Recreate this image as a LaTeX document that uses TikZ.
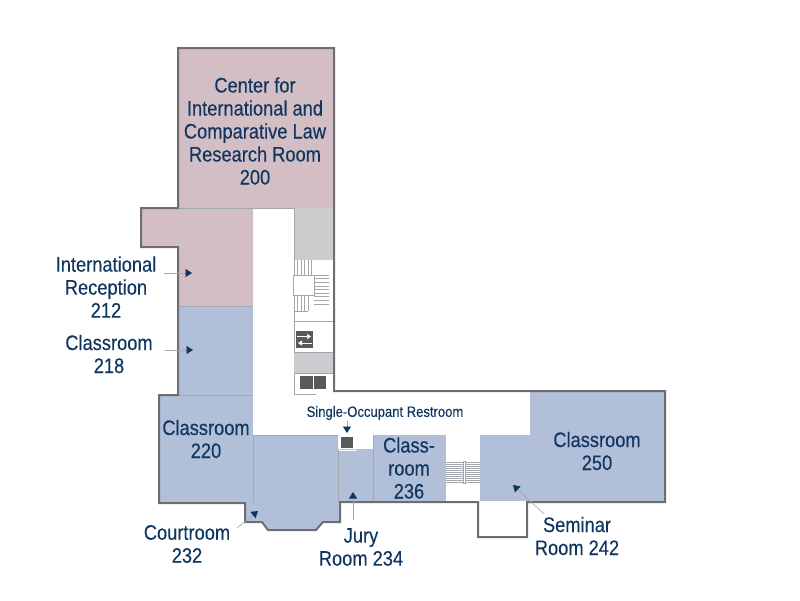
\documentclass[tikz,border=0pt]{standalone}
\usepackage{fontspec}
\setmainfont[FakeStretch=0.87,FakeBold=0.25]{Liberation Sans}
\usetikzlibrary{arrows.meta}
\definecolor{pinkroom}{HTML}{D4BEC6}
\definecolor{blueroom}{HTML}{B2BFD8}
\definecolor{ink}{HTML}{10365F}
\definecolor{wall}{HTML}{6E6E70}
\definecolor{thin}{HTML}{A4A8AE}
\definecolor{greyroom}{HTML}{CBCCCE}
\definecolor{dark}{HTML}{58595B}
\tikzset{
  roomlabel/.style={text=ink,align=center,font=\fontsize{21}{23}\selectfont,inner sep=0pt},
  smalllabel/.style={text=ink,align=center,font=\fontsize{15}{17}\selectfont,inner sep=0pt},
  outerwall/.style={draw=wall,line width=2pt,line join=miter},
  inner/.style={draw=thin,line width=0.7pt},
  tread/.style={draw=thin,line width=0.6pt},
  leader/.style={draw=thin,line width=0.6pt,-{Triangle[length=6.5pt,width=8pt,color=ink,fill=ink]}},
}
\begin{document}
\begin{tikzpicture}[x=1pt,y=-1pt]
\useasboundingbox (0,0) rectangle (800,600);
% room fills
\fill[pinkroom] (178,48) rectangle (334,208);
\fill[pinkroom] (141,208) -- (253,208) -- (253,306) -- (178,306) -- (178,247) -- (141,247) -- cycle;
\fill[blueroom] (178,306) rectangle (253,395);
\fill[blueroom] (159,395) -- (253,395) -- (253,503) -- (159,503) -- cycle;
\fill[blueroom] (253,435) -- (338,435) -- (338,503) -- (340,503) -- (340,522) -- (323,522) -- (316,530) -- (268,530) -- (262,522) -- (245,522) -- (245,503) -- (253,503) -- cycle;
\fill[blueroom] (338,449) -- (373,449) -- (373,503) -- (338,503) -- cycle;
\fill[blueroom] (373,435) -- (446,435) -- (446,503) -- (373,503) -- cycle;
\fill[blueroom] (480,435) -- (530,435) -- (530,501) -- (480,501) -- cycle;
\fill[blueroom] (530,391) rectangle (665,502);
\fill[greyroom] (294,208) rectangle (333,260);
\fill[greyroom] (294,353) rectangle (333,373);
% room dividers
\draw[inner] (178,306) -- (253,306);
\draw[inner] (178,208) -- (294,208);
\draw[inner] (178,395) -- (253,395);
\draw[inner] (253,435) -- (253,503);
\draw[inner] (253,435) -- (338,435);
\draw[inner] (338,449) -- (338,503);
\draw[inner] (373,435) -- (373,503);
\draw[inner] (294,208) -- (294,260);
% stairs, upper
\foreach \x in {294,297.5,...,314} \draw[tread] (\x,260) -- (\x,275);
\draw[inner] (293,275) rectangle (314,295);
\foreach \y in {275,278.6,...,304.5} \draw[tread] (314,\y) -- (329,\y);
\foreach \x in {294,297.5,...,308} \draw[tread] (\x,295) -- (\x,311);
\draw[inner] (294,311) -- (308,311);
\draw[inner] (294,311) -- (294,352);
\draw[inner] (294,321) -- (333,321);
\draw[inner] (294,352) -- (333,352);
\draw[inner] (294,373) -- (294,394) -- (316,394);
\draw[inner] (294,373) -- (333,373);
% elevator glyph
\fill[dark] (296,331) rectangle (313,348);
\draw[white,line width=0.5pt,-{Triangle[length=4pt,width=5pt,fill=white]}] (297,336.5) -- (311,336.5);
\draw[white,line width=0.5pt,-{Triangle[length=4pt,width=5pt,fill=white]}] (312,343) -- (298,343);
% lifts
\fill[dark] (299.5,376) rectangle (312.7,389);
\fill[dark] (313.5,376) rectangle (326,389);
% restroom
\draw[white,line width=1pt] (339,435.5) rectangle (355,450);
\fill[dark] (341,437) rectangle (353,448);
% stairs, lower
\foreach \y in {462,464,...,483} \draw[tread,line width=0.4pt] (446,\y) -- (480,\y);
\draw[tread,fill=white] (463,461) rectangle (465,483);
% outer wall
\draw[outerwall] (178,48) -- (334,48) -- (334,391) -- (665,391) -- (665,502) -- (527,502) -- (527,537) -- (478,537) -- (478,502) -- (340,502) -- (340,522) -- (323,522) -- (316,530) -- (268,530) -- (262,522) -- (245,522) -- (245,503) -- (159,503) -- (159,395) -- (178,395) -- (178,247) -- (141,247) -- (141,208) -- (178,208) -- cycle;
% labels
\node[roomlabel] (r200) at (255,131) {Center for\\International and\\Comparative Law\\Research Room\\200};
\node[roomlabel] (r212) at (106,287) {International\\Reception\\212};
\node[roomlabel] (r218) at (109,354) {Classroom\\218};
\node[roomlabel] (r220) at (206,439) {Classroom\\220};
\node[roomlabel] (r236) at (409,468) {Class-\\room\\236};
\node[roomlabel] (r250) at (597,451) {Classroom\\250};
\node[roomlabel] (r232) at (187,544) {Courtroom\\232};
\node[roomlabel] (r234) at (361,547) {Jury\\Room 234};
\node[roomlabel] (r242) at (577,536) {Seminar\\Room 242};
\node[smalllabel] (rest) at (385,413) {Single-Occupant Restroom};
% leaders
\coordinate (a1) at (164,273); \coordinate (a2) at (192,273);
\coordinate (b1) at (165,350); \coordinate (b2) at (193,350);
\coordinate (c1) at (237,528); \coordinate (c2) at (258,511);
\coordinate (d1) at (353,520); \coordinate (d2) at (353,492);
\coordinate (e1) at (544,514); \coordinate (e2) at (513,485);
\coordinate (f1) at (347,421); \coordinate (f2) at (347,433);
\draw[leader] (a1) -- (a2);
\draw[leader] (b1) -- (b2);
\draw[leader] (c1) -- (c2);
\draw[leader] (d1) -- (d2);
\draw[leader] (e1) -- (e2);
\draw[leader] (f1) -- (f2);
\end{tikzpicture}
\end{document}
